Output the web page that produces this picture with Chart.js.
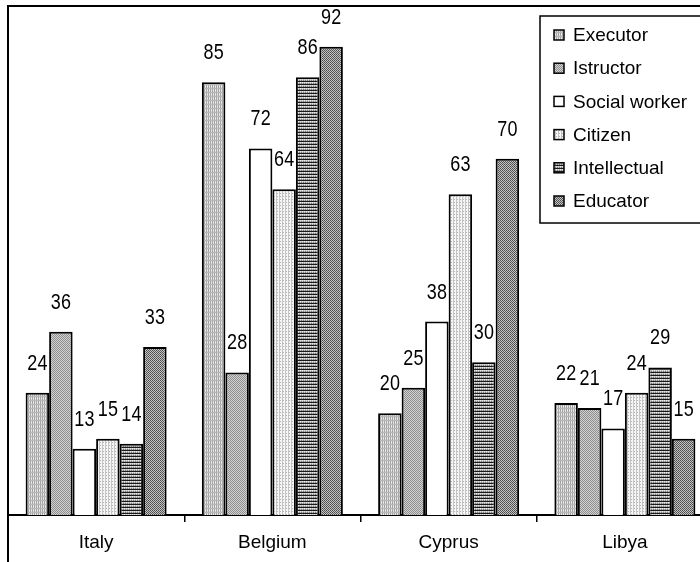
<!DOCTYPE html>
<html>
<head>
<meta charset="utf-8">
<script src="https://cdn.jsdelivr.net/npm/chart.js@4.4.1/dist/chart.umd.min.js"></script>
<style>
  html, body { margin: 0; padding: 0; background: #fff; }
  #wrap { width: 700px; height: 562px; overflow: hidden; position: relative; }
  canvas { display: block; }
</style>
</head>
<body>
<div id="wrap"><canvas id="c" width="720" height="562"></canvas></div>
<script>
// Countries on the category axis
const countries = ['Italy', 'Belgium', 'Cyprus', 'Libya'];

// Role series, one value per country
const seriesNames = ['Executor', 'Istructor', 'Social worker', 'Citizen', 'Intellectual', 'Educator'];
const executor     = [24, 85, 20, 22];
const istructor    = [36, 28, 25, 21];
const socialWorker = [13, 72, 38, 17];
const citizen      = [15, 64, 63, 24];
const intellectual = [14, 86, 30, 29];
const educator     = [33, 92, 70, 15];

const yMin = 0;
const yMax = 100;

// --- monochrome fill patterns -------------------------------------------
const helper = document.createElement('canvas').getContext('2d');
function pattern(w, h, paint) {
  const c = document.createElement('canvas');
  c.width = w; c.height = h;
  const g = c.getContext('2d');
  paint(g);
  return helper.createPattern(c, 'repeat');
}
function px(g, x, y, col) { g.fillStyle = col; g.fillRect(x, y, 1, 1); }

const fills = [
  // Executor: fine grey plaid
  pattern(4, 4, g => {
    g.fillStyle = '#dcdcdc'; g.fillRect(0, 0, 4, 4);
    g.fillStyle = '#a4a4a4'; g.fillRect(0, 0, 1, 4); g.fillRect(2, 0, 1, 4);
    g.fillStyle = '#b8b8b8'; g.fillRect(0, 0, 4, 1);
    px(g, 1, 2, '#f0f0f0'); px(g, 3, 2, '#f0f0f0');
  }),
  // Istructor: dense grey checker
  pattern(2, 2, g => {
    g.fillStyle = '#d2d2d2'; g.fillRect(0, 0, 2, 2);
    px(g, 0, 0, '#8e8e8e'); px(g, 1, 1, '#8e8e8e');
  }),
  // Social worker: plain white
  '#ffffff',
  // Citizen: sparse light dots
  pattern(3, 3, g => {
    g.fillStyle = '#f6f6f6'; g.fillRect(0, 0, 3, 3);
    g.fillStyle = '#c4c4c4'; g.fillRect(0, 0, 1, 3);
    px(g, 1, 1, '#b4b4b4');
  }),
  // Intellectual: black horizontal stripes over grey dots
  pattern(2, 3, g => {
    g.fillStyle = '#bdbdbd'; g.fillRect(0, 0, 2, 3);
    g.fillStyle = '#1a1a1a'; g.fillRect(0, 0, 2, 1);
    px(g, 0, 1, '#e6e6e6'); px(g, 1, 2, '#7a7a7a');
  }),
  // Educator: dark dither
  pattern(2, 2, g => {
    g.fillStyle = '#c4c4c4'; g.fillRect(0, 0, 2, 2);
    px(g, 0, 0, '#4a4a4a'); px(g, 1, 1, '#5a5a5a');
  })
];

const seriesValues = [executor, istructor, socialWorker, citizen, intellectual, educator];

const datasets = seriesNames.map((name, i) => ({
  label: name,
  data: seriesValues[i],
  backgroundColor: fills[i],
  borderColor: '#000',
  borderWidth: 2,
  borderSkipped: 'bottom',
  categoryPercentage: 0.8,
  barPercentage: 1.0
}));

// Value labels above each bar (slightly tall digits)
const valueLabels = {
  id: 'valueLabels',
  afterDatasetsDraw(chart) {
    const ctx = chart.ctx;
    ctx.save();
    ctx.fillStyle = '#000';
    ctx.textAlign = 'center';
    ctx.textBaseline = 'middle';
    ctx.font = '18px "Liberation Sans", Arial, sans-serif';
    chart.data.datasets.forEach((ds, di) => {
      const meta = chart.getDatasetMeta(di);
      meta.data.forEach((bar, j) => {
        const cx = bar.x;
        const cy = bar.y - 29;
        ctx.save();
        ctx.translate(cx, cy);
        ctx.scale(1, 1.2);
        ctx.fillText(String(ds.data[j]), 0, 0);
        ctx.restore();
      });
    });
    ctx.restore();
  }
};

// Frame lines (top and left) plus a boxed legend in the upper right
const frameAndLegend = {
  id: 'frameAndLegend',
  afterDraw(chart) {
    const ctx = chart.ctx;
    const area = chart.chartArea;
    ctx.save();
    ctx.strokeStyle = '#000';
    ctx.lineWidth = 2;
    ctx.beginPath();
    ctx.moveTo(area.left, chart.height);
    ctx.lineTo(area.left, area.top);
    ctx.lineTo(chart.width, area.top);
    ctx.stroke();

    // legend box
    const bx = 540, by = 16, bw = 180, bh = 207;
    ctx.fillStyle = '#fff';
    ctx.fillRect(bx, by, bw, bh);
    ctx.lineWidth = 1.5;
    ctx.strokeRect(bx, by, bw, bh);

    ctx.font = '19px "Liberation Sans", Arial, sans-serif';
    ctx.textAlign = 'left';
    ctx.textBaseline = 'middle';
    chart.data.datasets.forEach((ds, i) => {
      const cy = 35 + i * 33.2;
      ctx.fillStyle = ds.backgroundColor;
      ctx.fillRect(554, cy - 5, 10, 10);
      ctx.lineWidth = 1.5;
      ctx.strokeStyle = '#000';
      ctx.strokeRect(554, cy - 5, 10, 10);
      ctx.fillStyle = '#000';
      ctx.fillText(ds.label, 573, cy + 1);
    });
    ctx.restore();
  }
};

new Chart(document.getElementById('c'), {
  type: 'bar',
  data: { labels: countries, datasets },
  options: {
    responsive: false,
    animation: false,
    layout: { padding: { left: 8, right: 7, top: 6, bottom: 0 } },
    plugins: {
      legend: { display: false },
      tooltip: { enabled: false }
    },
    scales: {
      x: {
        offset: true,
        afterFit(scale) { scale.height = 47; },
        grid: {
          offset: true,
          drawOnChartArea: false,
          drawTicks: true,
          tickLength: 7,
          color: '#000',
          lineWidth: 1.5
        },
        border: { display: true, color: '#000', width: 2 },
        ticks: {
          color: '#000',
          padding: 9,
          font: { family: '"Liberation Sans", Arial, sans-serif', size: 19 }
        }
      },
      y: {
        display: false,
        min: yMin,
        max: yMax
      }
    }
  },
  plugins: [valueLabels, frameAndLegend]
});
</script>
</body>
</html>
